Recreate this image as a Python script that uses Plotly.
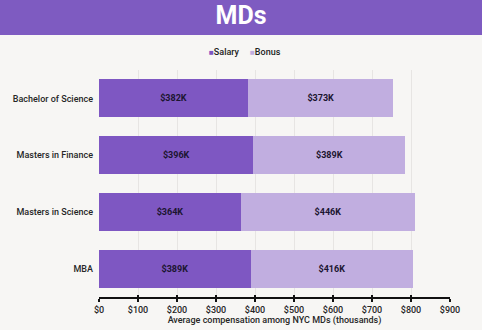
import plotly.graph_objects as go

categories = ["Bachelor of Science", "Masters in Finance", "Masters in Science", "MBA"]
salary = [382, 396, 364, 389]
bonus = [373, 389, 446, 416]
x_ticks = [0, 100, 200, 300, 400, 500, 600, 700, 800, 900]
x_ticklabels = ["$" + str(v) for v in x_ticks]

SAL_COLOR = "#7e57c2"
BON_COLOR = "#c1aee0"
BG = "#f7f6f4"
FONT = "Roboto"
TXT = "#262626"

fig = go.Figure()
fig.add_trace(go.Bar(
    y=categories, x=salary, name="Salary", orientation="h",
    marker=dict(color=SAL_COLOR, line=dict(width=0)),
    text=["$%dK" % v for v in salary], textposition="inside",
    insidetextanchor="middle",
    textfont=dict(family=FONT, size=9, color="#1b1530", weight="bold"),
    width=0.67, showlegend=False,
))
fig.add_trace(go.Bar(
    y=categories, x=bonus, name="Bonus", orientation="h",
    marker=dict(color=BON_COLOR, line=dict(width=0)),
    text=["$%dK" % v for v in bonus], textposition="inside",
    insidetextanchor="middle",
    textfont=dict(family=FONT, size=9, color="#1b1530", weight="bold"),
    width=0.67, showlegend=False,
))

PX = lambda px: (px - 99) / 351
PY = lambda py: (297 - py) / 227

legend_font = dict(family=FONT, size=9, color="#222", weight=500)
fig.update_layout(
    width=482, height=330,
    barmode="stack",
    paper_bgcolor=BG, plot_bgcolor=BG,
    margin=dict(l=99, r=32, t=70, b=33, autoexpand=False),
    font=dict(family=FONT, size=9, color=TXT),
    title=dict(text="<b>MDs</b>", x=0.5, xanchor="center", y=1 - 15 / 330, yanchor="middle",
               font=dict(family=FONT, size=25, color="white")),
    annotations=[
        dict(xref="paper", yref="paper", x=PX(242), y=PY(52),
             xanchor="right", yanchor="middle", showarrow=False,
             text="<span style='color:%s;font-size:8px'>■</span>Salary" % SAL_COLOR,
             font=legend_font),
        dict(xref="paper", yref="paper", x=PX(248), y=PY(52),
             xanchor="left", yanchor="middle", showarrow=False,
             text="<span style='color:%s;font-size:8px'>■</span>Bonus" % BON_COLOR,
             font=legend_font),
    ],
    xaxis=dict(range=[0, 900], tickvals=x_ticks, ticktext=x_ticklabels,
               automargin=False,
               showgrid=True, gridcolor="#e7e5e3", gridwidth=1,
               showline=True, linecolor="#111", linewidth=1.5,
               ticks="outside", ticklen=3, tickcolor="#111", tickwidth=1.5,
               zeroline=False,
               tickfont=dict(family=FONT, size=9, color=TXT, weight=500),
               title=dict(text="Average compensation among NYC MDs (thousands)",
                          font=dict(family=FONT, size=9, color=TXT, weight=500),
                          standoff=3)),
    xaxis2=dict(matches="x", overlaying="x", anchor="y", side="bottom",
                tickvals=x_ticks, showticklabels=False, showgrid=False,
                showline=False, zeroline=False, automargin=False,
                ticks="inside", ticklen=2, tickcolor="#111", tickwidth=1.5),
    yaxis=dict(autorange="reversed", showgrid=False, showline=False, ticks="",
               automargin=False, ticklabelstandoff=5,
               tickfont=dict(family=FONT, size=9, color=TXT, weight=500)),
    shapes=[dict(type="rect", xref="paper", yref="paper",
                 x0=-0.5, x1=1.5, y0=PY(35), y1=1.5,
                 fillcolor="#7e5bc1", line=dict(width=0), layer="below")],
)
# an empty trace so the inner tick axis is drawn
fig.add_trace(go.Scatter(x=[], y=[], xaxis="x2", yaxis="y", showlegend=False, hoverinfo="skip"))

fig.write_html("out.html")
